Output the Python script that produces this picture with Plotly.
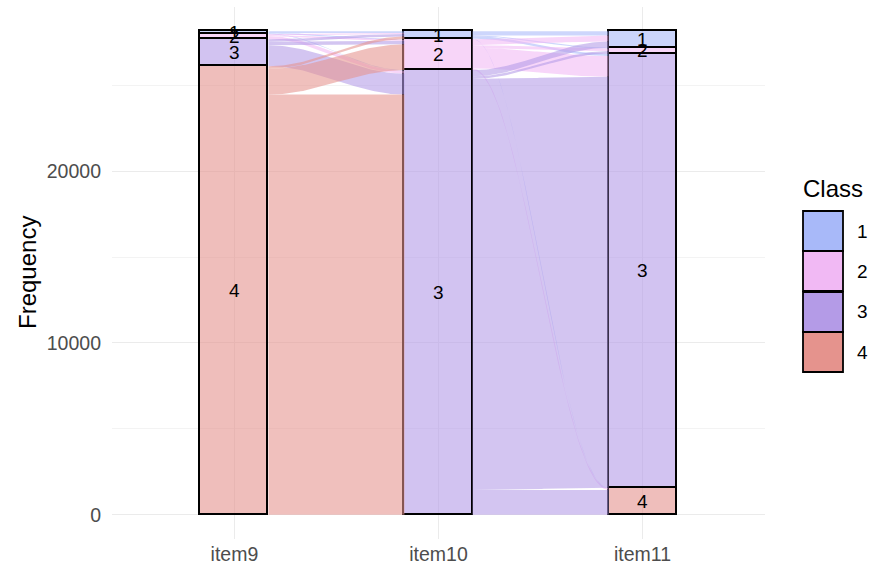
import numpy as np
import plotly.graph_objects as go

# ---------------- data ----------------
axis_labels = ["item9", "item10", "item11"]
classes = ["1", "2", "3", "4"]
class_colors = ["#A8B9F9", "#F1B9F4", "#B49BE7", "#E5938D"]

# flows between consecutive items: rows = class at left item, cols = class at right item
flow_item9_item10 = [
    [100, 40, 35, 0],
    [60, 60, 170, 0],
    [150, 200, 1220, 0],
    [155, 1500, 24450, 0],
]
flow_item10_item11 = [
    [250, 50, 140, 25],
    [350, 150, 1200, 100],
    [360, 150, 23920, 1445],
    [0, 0, 0, 0],
]

# ---------------- derived ----------------
F1 = np.array(flow_item9_item10, dtype=float)
F2 = np.array(flow_item10_item11, dtype=float)
counts = [F1.sum(axis=1), F1.sum(axis=0), F2.sum(axis=0)]
total = counts[0].sum()
W = 1 / 3


def rgba(hexc, a):
    h = hexc.lstrip("#")
    r, g, b = int(h[0:2], 16), int(h[2:4], 16), int(h[4:6], 16)
    return f"rgba({r},{g},{b},{a})"


def tops(c):
    t = []
    acc = total
    for v in c:
        t.append(acc)
        acc -= v
    return np.array(t)


stratum_tops = [tops(c) for c in counts]

fig = go.Figure()

# flows
t = np.linspace(0, 1, 60)
s = (1 - np.cos(np.pi * t)) / 2
for gap, F in enumerate([F1, F2]):
    xl = gap + 1 + W / 2
    xr = gap + 2 - W / 2
    xs = xl + (xr - xl) * t
    lt = stratum_tops[gap]
    rt = stratum_tops[gap + 1]
    n = F.shape[0]
    for i in range(n):
        for j in range(n):
            f = F[i, j]
            if f <= 0:
                continue
            a_top = lt[i] - F[i, :j].sum()
            b_top = rt[j] - F[:i, j].sum()
            ytop = a_top + (b_top - a_top) * s
            ybot = ytop - f
            fig.add_trace(go.Scatter(
                x=np.concatenate([xs, xs[::-1]]),
                y=np.concatenate([ytop, ybot[::-1]]),
                fill="toself", mode="lines", line=dict(width=0),
                fillcolor=rgba(class_colors[i], 0.58),
                hoverinfo="skip", showlegend=False))

# strata (stacked bars, class 4 at bottom)
for k in reversed(range(len(classes))):
    ys = [counts[a][k] if counts[a][k] > 0 else None for a in range(3)]
    fig.add_trace(go.Bar(
        x=[1, 2, 3], y=ys, width=W,
        marker=dict(color=rgba(class_colors[k], 0.6),
                    line=dict(color="black", width=1.8)),
        showlegend=False, hoverinfo="skip"))

# stratum labels
for a in range(3):
    for k in range(len(classes)):
        v = counts[a][k]
        if v <= 0:
            continue
        fig.add_annotation(x=a + 1, y=stratum_tops[a][k] - v / 2, text=classes[k],
                           xanchor="center", yanchor="middle",
                           showarrow=False, font=dict(size=19, color="black"))

# ---------------- layout ----------------
L, R, T, B = 112, 765, 7, 539


def px(x):
    return (x - L) / (R - L)


def py(y):
    return (B - y) / (B - T)


shapes = []
key_y = [(211, 251), (251, 291), (292, 332), (332, 372)]
for k, (y0, y1) in enumerate(key_y):
    shapes.append(dict(type="rect", xref="paper", yref="paper",
                       x0=px(803), x1=px(843), y0=py(y1), y1=py(y0),
                       fillcolor=class_colors[k], line=dict(color="black", width=1.8)))
    fig.add_annotation(xref="paper", yref="paper", x=px(855), y=py((y0 + y1) / 2),
                       xanchor="left", yanchor="middle", text=classes[k], showarrow=False,
                       font=dict(size=19, color="black"))
fig.add_annotation(xref="paper", yref="paper", x=px(801), y=py(188), xanchor="left",
                   yanchor="middle", text="Class", showarrow=False,
                   font=dict(size=24, color="black"))
fig.add_annotation(xref="paper", yref="paper", x=px(27), y=py(272), textangle=-90,
                   xanchor="center", yanchor="middle",
                   text="Frequency", showarrow=False, font=dict(size=24, color="black"))

fig.update_layout(
    width=892, height=585,
    margin=dict(l=L, r=892 - R, t=T, b=585 - B, autoexpand=False),
    plot_bgcolor="white", paper_bgcolor="white",
    font=dict(family="Liberation Sans, Arial, sans-serif"),
    barmode="stack", bargap=0,
    shapes=shapes, showlegend=False,
    xaxis=dict(range=[0.4, 3.6], tickvals=[1, 2, 3], ticktext=axis_labels,
               showgrid=True, gridcolor="#EBEBEB", gridwidth=1.1, zeroline=False,
               showline=False, ticks="", tickfont=dict(size=19.5, color="#4D4D4D"),
               ticklabelstandoff=1),
    yaxis=dict(range=[-0.05 * total, 1.05 * total], tick0=0, dtick=10000, tickformat="d",
               showgrid=True, gridcolor="#EBEBEB", gridwidth=1.1, zeroline=False,
               showline=False, ticks="", tickfont=dict(size=19.5, color="#4D4D4D"),
               ticklabelstandoff=10,
               minor=dict(dtick=5000, tick0=0, showgrid=True, gridcolor="#F3F3F3", gridwidth=0.7)),
)

fig.write_html("out.html")
